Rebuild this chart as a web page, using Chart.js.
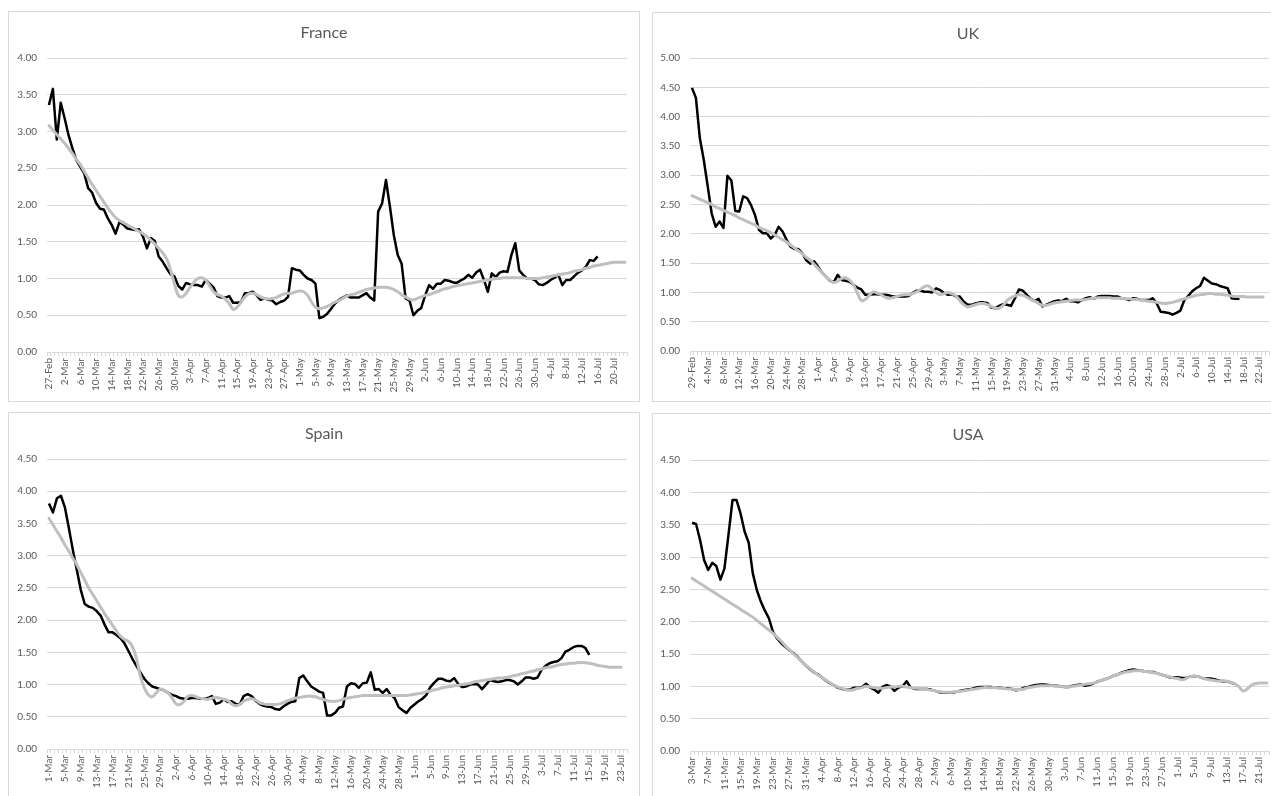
<!DOCTYPE html>
<html>
<head>
<meta charset="utf-8">
<script src="https://cdn.jsdelivr.net/npm/chart.js@4.4.1/dist/chart.umd.min.js"></script>
<style>
  html, body { margin: 0; padding: 0; background: #ffffff; overflow: hidden; }
  body { width: 1271px; height: 796px; position: relative; }
  .panel { position: absolute; box-sizing: border-box; border: 1px solid #d9d9d9; background: #fff; }
  .panel canvas { position: absolute; left: -1px; top: -1px; }
</style>
</head>
<body>
<div class="panel" id="pFrance"><canvas id="cFrance"></canvas></div>
<div class="panel" id="pUK"><canvas id="cUK"></canvas></div>
<div class="panel" id="pSpain"><canvas id="cSpain"></canvas></div>
<div class="panel" id="pUSA"><canvas id="cUSA"></canvas></div>
<script>
// ---------- DATA ----------
// Category start dates (2020, daily) and number of days on each axis
const franceStart = [2020, 2, 27]; const franceDays = 148;   // 27-Feb .. 23-Jul
const ukStart     = [2020, 2, 29]; const ukDays     = 147;   // 29-Feb .. 24-Jul
const spainStart  = [2020, 3, 1];  const spainDays  = 146;   // 1-Mar .. 24-Jul
const usaStart    = [2020, 3, 3];  const usaDays    = 143;   // 3-Mar .. 23-Jul

// Y-axis tick maxima
const franceTicksMax = 4.0;
const ukTicksMax = 5.0;
const spainTicksMax = 4.5;
const usaTicksMax = 4.5;

// France: daily R (black) and smoothed trend (grey)
const franceR = [3.36,3.58,2.89,3.39,3.18,2.95,2.77,2.61,2.52,2.43,
 2.23,2.17,2.03,1.95,1.94,1.82,1.73,1.61,1.77,1.73,
 1.68,1.67,1.66,1.67,1.57,1.41,1.55,1.51,1.30,1.23,
 1.14,1.06,1.03,0.90,0.85,0.94,0.92,0.91,0.91,0.89,
 0.98,0.93,0.88,0.76,0.74,0.74,0.76,0.67,0.67,0.68,
 0.80,0.80,0.82,0.77,0.71,0.73,0.71,0.70,0.65,0.68,
 0.70,0.75,1.14,1.12,1.11,1.05,1.00,0.98,0.93,0.46,
 0.48,0.52,0.59,0.66,0.71,0.74,0.77,0.74,0.74,0.74,
 0.77,0.80,0.74,0.70,1.91,2.02,2.34,1.98,1.59,1.32,
 1.20,0.73,0.70,0.50,0.56,0.60,0.77,0.91,0.86,0.93,
 0.93,0.98,0.97,0.95,0.94,0.97,1.00,1.05,1.01,1.08,
 1.12,0.98,0.82,1.07,1.02,1.08,1.10,1.09,1.32,1.48,
 1.11,1.05,1.00,1.00,0.98,0.92,0.91,0.94,0.98,1.01,
 1.05,0.91,0.98,0.98,1.03,1.08,1.11,1.16,1.25,1.24,
 1.30];
const franceTrend = [3.08,3.02,2.96,2.90,2.84,2.77,2.70,2.62,2.55,2.46,
 2.37,2.28,2.20,2.12,2.04,1.96,1.89,1.83,1.79,1.76,
 1.73,1.70,1.67,1.64,1.61,1.57,1.52,1.47,1.41,1.35,
 1.27,1.12,0.93,0.77,0.75,0.80,0.88,0.95,1.00,1.01,
 0.98,0.90,0.82,0.78,0.76,0.72,0.66,0.58,0.61,0.68,
 0.75,0.79,0.80,0.78,0.75,0.73,0.72,0.73,0.74,0.77,
 0.79,0.80,0.80,0.82,0.83,0.82,0.77,0.68,0.61,0.59,
 0.60,0.62,0.65,0.68,0.70,0.73,0.76,0.78,0.79,0.81,
 0.83,0.85,0.86,0.87,0.88,0.88,0.88,0.87,0.85,0.82,
 0.78,0.75,0.72,0.71,0.73,0.75,0.77,0.78,0.80,0.82,
 0.84,0.86,0.87,0.89,0.90,0.91,0.92,0.93,0.94,0.95,
 0.96,0.97,0.98,0.99,1.00,1.00,1.01,1.01,1.01,1.01,
 1.01,1.01,1.00,1.00,1.00,1.00,1.01,1.02,1.03,1.04,
 1.05,1.06,1.07,1.08,1.10,1.11,1.12,1.14,1.15,1.17,
 1.18,1.19,1.20,1.21,1.22,1.22,1.22,1.22];

// UK
const ukR = [4.49,4.32,3.63,3.26,2.81,2.35,2.12,2.21,2.10,2.99,
 2.91,2.39,2.38,2.64,2.61,2.49,2.32,2.07,2.01,2.01,
 1.92,1.98,2.12,2.04,1.90,1.78,1.74,1.74,1.67,1.55,
 1.49,1.53,1.44,1.34,1.27,1.20,1.17,1.30,1.21,1.20,
 1.18,1.13,1.08,1.05,0.96,0.96,0.97,0.97,0.96,0.96,
 0.95,0.93,0.93,0.93,0.93,0.94,0.99,1.03,1.03,1.01,
 1.01,1.00,1.07,1.04,0.99,0.96,0.97,0.93,0.93,0.84,
 0.79,0.79,0.81,0.83,0.83,0.82,0.74,0.73,0.77,0.80,
 0.79,0.77,0.90,1.05,1.03,0.96,0.89,0.85,0.89,0.76,
 0.79,0.82,0.85,0.86,0.85,0.89,0.85,0.85,0.83,0.87,
 0.90,0.92,0.89,0.93,0.94,0.94,0.94,0.93,0.93,0.90,
 0.89,0.87,0.90,0.89,0.87,0.87,0.87,0.90,0.81,0.67,
 0.66,0.65,0.62,0.65,0.69,0.87,0.94,1.02,1.07,1.11,
 1.25,1.20,1.15,1.14,1.11,1.09,1.07,0.90,0.89,0.89];
const ukTrend = [2.65,2.62,2.59,2.56,2.53,2.50,2.46,2.43,2.40,2.37,
 2.34,2.31,2.27,2.24,2.21,2.18,2.15,2.11,2.08,2.05,
 2.02,1.98,1.94,1.90,1.86,1.81,1.76,1.71,1.66,1.60,
 1.55,1.48,1.41,1.34,1.27,1.21,1.17,1.19,1.24,1.25,
 1.21,1.13,0.99,0.86,0.88,0.95,1.01,0.99,0.96,0.92,
 0.90,0.91,0.93,0.95,0.96,0.96,0.98,1.01,1.05,1.10,
 1.11,1.05,1.00,0.96,0.98,1.00,0.98,0.94,0.86,0.79,
 0.75,0.77,0.79,0.81,0.81,0.79,0.76,0.73,0.73,0.78,
 0.86,0.91,0.94,0.96,0.95,0.92,0.88,0.85,0.81,0.78,
 0.78,0.80,0.82,0.83,0.84,0.85,0.86,0.87,0.87,0.87,
 0.88,0.89,0.90,0.91,0.91,0.91,0.91,0.90,0.90,0.90,
 0.89,0.89,0.88,0.88,0.87,0.86,0.85,0.84,0.83,0.82,
 0.81,0.82,0.83,0.85,0.87,0.89,0.91,0.93,0.95,0.96,
 0.97,0.98,0.98,0.97,0.97,0.96,0.95,0.94,0.93,0.93,
 0.93,0.92,0.92,0.92,0.92,0.92];

// Spain
const spainR = [3.81,3.67,3.89,3.93,3.75,3.43,3.09,2.78,2.47,2.25,
 2.21,2.19,2.14,2.07,1.93,1.81,1.81,1.77,1.72,1.64,
 1.52,1.40,1.29,1.19,1.09,1.02,0.97,0.95,0.93,0.91,
 0.87,0.84,0.82,0.79,0.78,0.78,0.79,0.79,0.78,0.78,
 0.79,0.82,0.70,0.72,0.77,0.73,0.74,0.70,0.69,0.82,
 0.85,0.82,0.75,0.70,0.67,0.66,0.65,0.62,0.61,0.66,
 0.70,0.73,0.74,1.10,1.14,1.05,0.97,0.93,0.89,0.87,
 0.52,0.52,0.56,0.64,0.66,0.97,1.02,1.01,0.95,1.02,
 1.03,1.19,0.92,0.93,0.87,0.93,0.84,0.79,0.65,0.60,
 0.56,0.64,0.69,0.74,0.78,0.84,0.96,1.03,1.09,1.09,
 1.06,1.05,1.10,1.01,0.96,0.97,1.00,1.01,1.00,0.93,
 1.00,1.07,1.05,1.04,1.05,1.07,1.07,1.05,1.00,1.05,
 1.11,1.11,1.09,1.11,1.23,1.29,1.33,1.35,1.36,1.41,
 1.51,1.54,1.58,1.60,1.60,1.57,1.46];
const spainTrend = [3.58,3.48,3.38,3.28,3.17,3.07,2.96,2.86,2.74,2.62,
 2.50,2.40,2.30,2.20,2.10,2.01,1.92,1.83,1.75,1.70,
 1.67,1.59,1.41,1.13,0.95,0.84,0.81,0.87,0.93,0.91,
 0.87,0.79,0.70,0.69,0.74,0.82,0.83,0.81,0.79,0.78,
 0.77,0.79,0.80,0.79,0.77,0.75,0.70,0.67,0.69,0.74,
 0.77,0.78,0.76,0.72,0.70,0.69,0.69,0.69,0.70,0.72,
 0.75,0.77,0.79,0.80,0.81,0.82,0.82,0.81,0.79,0.77,
 0.75,0.74,0.74,0.75,0.77,0.79,0.80,0.81,0.82,0.83,
 0.83,0.83,0.83,0.83,0.83,0.83,0.83,0.83,0.83,0.83,
 0.83,0.84,0.85,0.86,0.87,0.89,0.90,0.92,0.93,0.95,
 0.96,0.97,0.98,0.99,1.00,1.01,1.02,1.04,1.05,1.06,
 1.07,1.08,1.09,1.10,1.10,1.11,1.12,1.14,1.15,1.17,
 1.18,1.20,1.21,1.23,1.24,1.26,1.27,1.28,1.30,1.31,
 1.32,1.33,1.33,1.34,1.34,1.34,1.33,1.32,1.30,1.29,
 1.28,1.27,1.27,1.27,1.27];

// USA
const usaR = [3.53,3.51,3.26,2.95,2.80,2.91,2.86,2.65,2.82,3.34,
 3.88,3.88,3.67,3.39,3.22,2.75,2.49,2.31,2.17,2.05,
 1.84,1.74,1.67,1.61,1.56,1.52,1.46,1.39,1.33,1.27,
 1.22,1.19,1.14,1.09,1.05,1.02,0.98,0.96,0.95,0.95,
 0.98,0.98,0.99,1.04,0.98,0.95,0.90,0.99,1.02,1.00,
 0.93,0.98,1.00,1.08,0.98,0.96,0.96,0.96,0.96,0.95,
 0.93,0.91,0.90,0.90,0.91,0.91,0.93,0.94,0.95,0.96,
 0.98,0.99,0.99,0.99,0.99,0.98,0.98,0.97,0.97,0.96,
 0.94,0.95,0.98,0.99,1.01,1.02,1.03,1.03,1.02,1.01,
 1.01,1.00,0.99,0.99,1.01,1.02,1.03,1.01,1.02,1.04,
 1.07,1.09,1.11,1.13,1.16,1.18,1.21,1.23,1.25,1.26,
 1.25,1.24,1.23,1.22,1.22,1.20,1.18,1.16,1.14,1.14,
 1.14,1.13,1.13,1.15,1.16,1.15,1.13,1.12,1.12,1.11,
 1.09,1.08,1.08,1.06,1.04];
const usaTrend = [2.67,2.63,2.59,2.55,2.51,2.47,2.43,2.39,2.35,2.31,
 2.27,2.23,2.19,2.15,2.11,2.07,2.02,1.97,1.92,1.87,
 1.82,1.76,1.70,1.63,1.57,1.51,1.45,1.39,1.33,1.28,
 1.23,1.18,1.14,1.10,1.06,1.02,0.99,0.97,0.95,0.94,
 0.95,0.97,0.98,1.00,0.99,0.98,0.97,0.97,0.98,0.99,
 0.99,1.00,1.00,0.99,0.98,0.97,0.97,0.96,0.95,0.94,
 0.93,0.92,0.91,0.91,0.91,0.92,0.92,0.93,0.94,0.95,
 0.96,0.97,0.98,0.98,0.98,0.98,0.97,0.97,0.96,0.96,
 0.95,0.95,0.96,0.98,0.99,1.00,1.01,1.01,1.01,1.01,
 1.00,1.00,0.99,0.99,1.00,1.01,1.02,1.03,1.04,1.05,
 1.07,1.09,1.11,1.13,1.16,1.18,1.20,1.22,1.23,1.24,
 1.24,1.24,1.23,1.22,1.21,1.20,1.18,1.16,1.15,1.13,
 1.12,1.10,1.12,1.15,1.16,1.15,1.13,1.11,1.10,1.09,
 1.08,1.09,1.08,1.06,1.04,1.00,0.93,0.95,1.01,1.04,
 1.05,1.05,1.05];

// ---------- HELPERS ----------
const MONTHS = ['Jan','Feb','Mar','Apr','May','Jun','Jul','Aug','Sep','Oct','Nov','Dec'];
function dayLabels(start, n) {
  const out = [];
  const d0 = Date.UTC(start[0], start[1] - 1, start[2]);
  for (let i = 0; i < n; i++) {
    const d = new Date(d0 + i * 86400000);
    out.push(d.getUTCDate() + '-' + MONTHS[d.getUTCMonth()]);
  }
  return out;
}

const FONT = 'Lato, "Open Sans", "Noto Sans", sans-serif';
const TXT = '#595959';
const GRID = '#d9d9d9';

function makeChart(cfg) {
  const panel = document.getElementById(cfg.panel);
  panel.style.left = cfg.x + 'px';
  panel.style.top = cfg.y + 'px';
  panel.style.width = cfg.w + 'px';
  panel.style.height = cfg.h + 'px';
  const canvas = document.getElementById(cfg.canvas);
  canvas.width = cfg.w; canvas.height = cfg.h;
  canvas.style.width = cfg.w + 'px'; canvas.style.height = cfg.h + 'px';

  const titleCenter = 22;
  const titleLine = 19;
  const rightGap = cfg.w - cfg.pr;
  const labels = dayLabels(cfg.start, cfg.days);

  new Chart(canvas, {
    type: 'line',
    data: {
      labels: labels,
      datasets: [
        { label: 'trend', data: cfg.trend, borderColor: '#bfbfbf', borderWidth: 3,
          pointRadius: 0, tension: 0.4, fill: false, borderCapStyle: 'round', borderJoinStyle: 'round' },
        { label: 'R', data: cfg.r, borderColor: '#000000', borderWidth: 2.5,
          pointRadius: 0, tension: 0, fill: false, borderJoinStyle: 'round' }
      ]
    },
    options: {
      responsive: false,
      animation: false,
      devicePixelRatio: 1,
      events: [],
      layout: { autoPadding: false, padding: 0 },
      plugins: {
        legend: { display: false },
        tooltip: { enabled: false },
        title: {
          display: true, text: cfg.title, color: TXT,
          font: { family: FONT, size: 16, weight: 'normal', lineHeight: titleLine / 16 },
          padding: { top: titleCenter - titleLine / 2, bottom: cfg.pt - titleCenter - titleLine / 2 }
        }
      },
      scales: {
        x: {
          type: 'category',
          offset: true,
          grid: { display: true, drawOnChartArea: false, drawTicks: true, tickLength: 4, color: GRID, offset: true },
          border: { display: true, color: GRID, width: 1 },
          ticks: {
            autoSkip: false, minRotation: 90, maxRotation: 90, padding: 2,
            color: TXT, font: { family: FONT, size: 10 },
            callback: function (val, index) { return index % 4 === 0 ? this.getLabelForValue(val) : ''; }
          },
          afterFit: function (scale) { scale.height = cfg.h - cfg.pb; }
        },
        y: {
          min: 0, max: cfg.ymax,
          grid: { color: GRID, lineWidth: 1, drawTicks: false },
          border: { display: false },
          ticks: {
            stepSize: 0.5, padding: 10, color: TXT, font: { family: FONT, size: 10 },
            callback: function (v) { return Number(v).toFixed(2); }
          },
          afterFit: function (scale) { scale.width = cfg.pl; }
        },
        // empty spacer on the right so the plot ends short of the frame
        spacer: {
          type: 'linear', position: 'right', display: true,
          grid: { display: false, drawOnChartArea: false, drawTicks: false },
          border: { display: false },
          ticks: { display: false },
          afterFit: function (scale) { scale.width = rightGap; }
        }
      }
    }
  });
}

makeChart({ panel: 'pFrance', canvas: 'cFrance', title: 'France', x: 8, y: 11, w: 632, h: 391,
  pl: 39, pr: 619, pt: 47, pb: 341, ymax: franceTicksMax, start: franceStart, days: franceDays,
  r: franceR, trend: franceTrend });
makeChart({ panel: 'pUK', canvas: 'cUK', title: 'UK', x: 652, y: 12, w: 632, h: 390,
  pl: 38, pr: 617, pt: 46, pb: 339, ymax: ukTicksMax, start: ukStart, days: ukDays,
  r: ukR, trend: ukTrend });
makeChart({ panel: 'pSpain', canvas: 'cSpain', title: 'Spain', x: 8, y: 412, w: 632, h: 392,
  pl: 39, pr: 619, pt: 47, pb: 337, ymax: spainTicksMax, start: spainStart, days: spainDays,
  r: spainR, trend: spainTrend });
makeChart({ panel: 'pUSA', canvas: 'cUSA', title: 'USA', x: 652, y: 413, w: 632, h: 392,
  pl: 38, pr: 617, pt: 47, pb: 338, ymax: usaTicksMax, start: usaStart, days: usaDays,
  r: usaR, trend: usaTrend });
</script>
</body>
</html>
